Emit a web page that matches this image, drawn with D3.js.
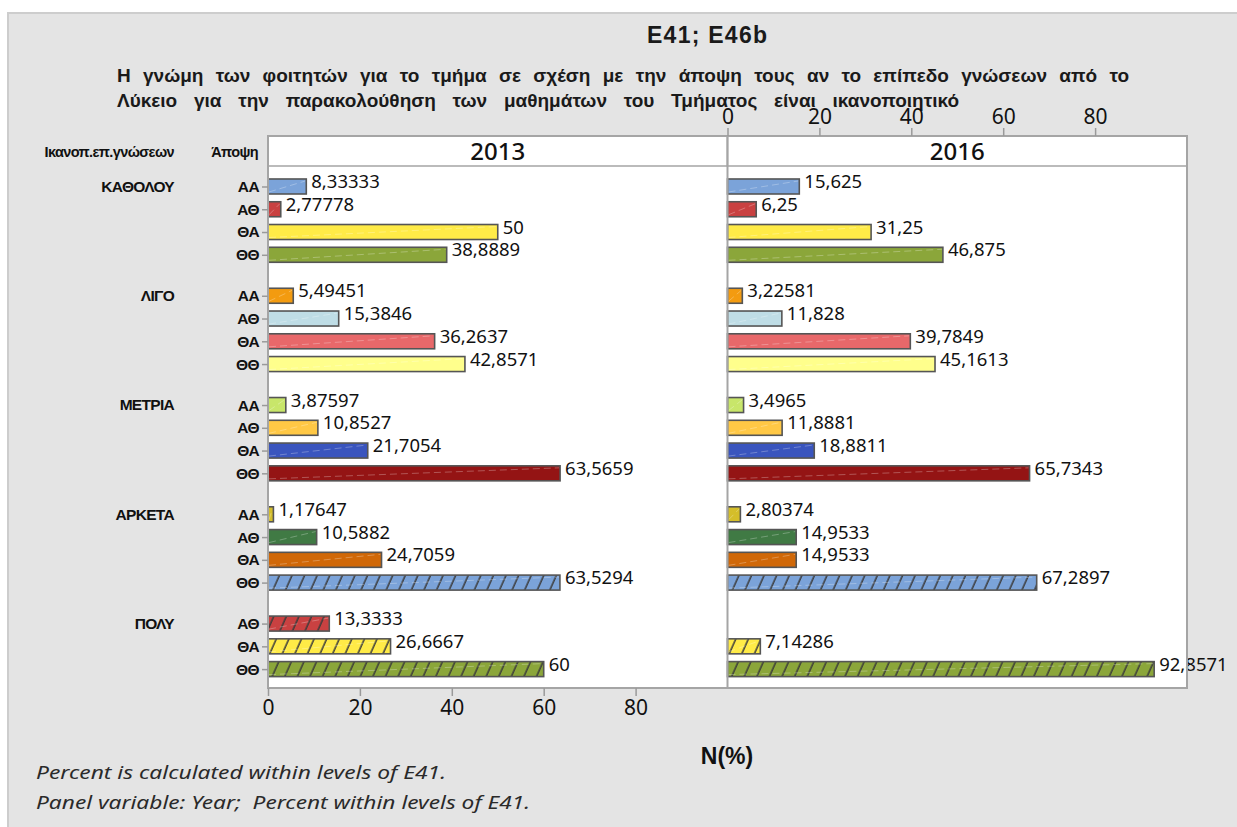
<!DOCTYPE html>
<html>
<head>
<meta charset="utf-8">
<script src="https://cdn.jsdelivr.net/npm/d3@7"></script>
<style>
  body { margin: 0; background: #fff; }
  svg { display: block; }
</style>
</head>
<body>
<div id="chart"></div>
<script>
// ---- data ----
const years = ['2013', '2016'];
const groups = ['ΚΑΘΟΛΟΥ', 'ΛΙΓΟ', 'ΜΕΤΡΙΑ', 'ΑΡΚΕΤΑ', 'ΠΟΛΥ'];
const opinions = [
  ['ΑΑ', 'ΑΘ', 'ΘΑ', 'ΘΘ'],
  ['ΑΑ', 'ΑΘ', 'ΘΑ', 'ΘΘ'],
  ['ΑΑ', 'ΑΘ', 'ΘΑ', 'ΘΘ'],
  ['ΑΑ', 'ΑΘ', 'ΘΑ', 'ΘΘ'],
  ['ΑΘ', 'ΘΑ', 'ΘΘ']
];
const values2013 = [8.33333, 2.77778, 50, 38.8889, 5.49451, 15.3846, 36.2637, 42.8571,
  3.87597, 10.8527, 21.7054, 63.5659, 1.17647, 10.5882, 24.7059, 63.5294, 13.3333, 26.6667, 60];
const values2016 = [15.625, 6.25, 31.25, 46.875, 3.22581, 11.828, 39.7849, 45.1613,
  3.4965, 11.8881, 18.8811, 65.7343, 2.80374, 14.9533, 14.9533, 67.2897, null, 7.14286, 92.8571];
const xTicks = [0, 20, 40, 60, 80];

// minitab-ish fill cycle, repeats with a hatch after 15
const palette = ['#7ba3d9', '#c94141', '#ffeb47', '#8ba63a', '#f39b10', '#bfdde6', '#e8686a',
  '#ffff8c', '#c8e66a', '#ffc845', '#3a55be', '#941414', '#d4be2a', '#407a44', '#d06808'];

const W = 1237, H = 827;
const GAP = 0.8; // extra row slots between groups
const SANS = 'Liberation Sans, Arial, sans-serif';
const UI = 'Noto Sans, Open Sans, sans-serif';

// flatten rows
const rows = [];
let k = 0;
groups.forEach((g, gi) => {
  opinions[gi].forEach((o, oi) => {
    rows.push({ group: g, gi, opinion: o, first: oi === 0, pos: k + gi * GAP, idx: k });
    k++;
  });
});

const svg = d3.select('#chart').append('svg').attr('width', W).attr('height', H);

const defs = svg.append('defs');
const hatch = defs.append('pattern')
  .attr('id', 'hatch').attr('patternUnits', 'userSpaceOnUse')
  .attr('width', 11.5).attr('height', 11.5)
  .attr('patternTransform', 'rotate(24)');
hatch.append('line').attr('x1', 3).attr('x2', 3).attr('y1', 0).attr('y2', 11.5)
  .attr('stroke', '#3a3a3a').attr('stroke-width', 1.5);

// stretch a text's word gaps so it spans `target` px
function fitWords(sel, target) {
  const n = sel.text().split(' ').length - 1;
  const len = sel.node().getComputedTextLength();
  if (n > 0 && target > len) sel.attr('word-spacing', (target - len) / n);
  else sel.attr('textLength', target).attr('lengthAdjust', 'spacingAndGlyphs');
}

// background
svg.append('rect').attr('x', 8).attr('y', 13).attr('width', W).attr('height', H)
  .attr('fill', '#e4e4e4').attr('stroke', '#cdcdcd').attr('stroke-width', 2);

// layout
const plotTop = 166, plotBottom = 688, stripTop = 136;
const panel = d3.scaleBand().domain(years).range([268, 1187]);
const x = d3.scaleLinear().domain([0, 100]).range([0, panel.bandwidth()]);
const y = d3.scaleLinear().domain([-0.9, 22.03]).range([plotTop, plotBottom]);
const barH = 15;

const numFmt = v => String(v).replace('.', ',');

// titles
svg.append('text').attr('x', 707).attr('y', 43).attr('text-anchor', 'middle')
  .attr('font-family', SANS).attr('font-weight', 'bold')
  .attr('font-size', 23).attr('fill', '#1a1a1a')
  .attr('textLength', 120).attr('lengthAdjust', 'spacing').text('E41; E46b');

const sub = [
  ['Η γνώμη των φοιτητών για το τμήμα σε σχέση με την άποψη τους αν το επίπεδο γνώσεων από το', 82, 1012],
  ['Λύκειο για την παρακολούθηση των μαθημάτων του Τμήματος είναι ικανοποιητικό', 107, 842]
];
const subEls = sub.map(([t, yy]) => svg.append('text').attr('x', 117).attr('y', yy)
  .attr('font-family', SANS).attr('font-weight', 'bold')
  .attr('font-size', 16).attr('fill', '#1a1a1a').text(t));
// size the subtitle so words keep modest gaps, as in the original
const natural = subEls[0].node().getComputedTextLength();
const subSize = Math.min(19, 16 * (0.9 * sub[0][2]) / natural);
subEls.forEach((s, i) => { s.attr('font-size', subSize); fitWords(s, sub[i][2]); });

// panels
years.forEach((yr, pi) => {
  const px = panel(yr), pw = panel.bandwidth();
  const g = svg.append('g').attr('transform', `translate(${px},0)`);
  g.append('rect').attr('x', 0).attr('y', plotTop).attr('width', pw).attr('height', plotBottom - plotTop)
    .attr('fill', '#fff');
  g.append('rect').attr('x', 0).attr('y', stripTop).attr('width', pw).attr('height', plotTop - stripTop)
    .attr('fill', '#fff').attr('stroke', '#a5a5a5').attr('stroke-width', 1.5);
  g.append('text').attr('x', pw / 2).attr('y', 160).attr('text-anchor', 'middle')
    .attr('font-family', UI).attr('font-size', 24).attr('font-weight', 500)
    .attr('fill', '#111').text(yr);

  const vals = pi === 0 ? values2013 : values2016;
  const data = rows.map(r => ({ ...r, v: vals[r.idx] })).filter(d => d.v != null);

  const bars = g.append('g').selectAll('g').data(data).join('g');
  bars.append('rect')
    .attr('x', x(0)).attr('y', d => y(d.pos) - barH / 2)
    .attr('width', d => x(d.v)).attr('height', barH)
    .attr('fill', d => palette[d.idx % palette.length]);
  bars.filter(d => d.idx >= palette.length).append('rect')
    .attr('x', x(0)).attr('y', d => y(d.pos) - barH / 2)
    .attr('width', d => x(d.v)).attr('height', barH)
    .attr('fill', 'url(#hatch)');
  // faint gloss streak
  bars.append('line')
    .attr('x1', x(0) + 1).attr('y1', d => y(d.pos) + barH / 2 - 2)
    .attr('x2', d => x(d.v) - 1).attr('y2', d => y(d.pos) - barH / 2 + 2)
    .attr('stroke', '#fff').attr('stroke-opacity', 0.35).attr('stroke-width', 0.8)
    .attr('stroke-dasharray', '7 4');
  bars.append('rect')
    .attr('x', x(0)).attr('y', d => y(d.pos) - barH / 2)
    .attr('width', d => x(d.v)).attr('height', barH)
    .attr('fill', 'none').attr('stroke', '#555').attr('stroke-width', 1.6);
  bars.append('text')
    .attr('x', d => x(d.v) + 5).attr('y', d => y(d.pos) + 1.5)
    .attr('font-family', UI).attr('font-size', 18.5)
    .attr('fill', '#111').text(d => numFmt(d.v));
});

// frame + divider
svg.append('rect').attr('x', 268).attr('y', stripTop).attr('width', 1187 - 268).attr('height', plotBottom - stripTop)
  .attr('fill', 'none').attr('stroke', '#a5a5a5').attr('stroke-width', 2);
svg.append('line').attr('x1', panel('2016')).attr('x2', panel('2016')).attr('y1', stripTop).attr('y2', plotBottom)
  .attr('stroke', '#a5a5a5').attr('stroke-width', 2);

// axes
function styleAxis(sel, size) {
  sel.select('.domain').remove();
  sel.selectAll('.tick line').attr('stroke', '#9a9a9a').attr('stroke-width', 1.5);
  sel.selectAll('.tick text').attr('font-family', UI)
    .attr('font-size', size).attr('fill', '#111');
}
const bottomAx = svg.append('g').attr('transform', `translate(${panel('2013')},${plotBottom})`)
  .call(d3.axisBottom(x).tickValues(xTicks).tickSize(8).tickPadding(4));
styleAxis(bottomAx, 21);
const topAx = svg.append('g').attr('transform', `translate(${panel('2016')},${stripTop})`)
  .call(d3.axisTop(x).tickValues(xTicks).tickSize(8).tickPadding(4));
styleAxis(topAx, 21);

const leftAx = svg.append('g').attr('transform', 'translate(268,0)')
  .call(d3.axisLeft(y).tickValues(rows.map(r => r.pos))
    .tickFormat((d, i) => rows[i].opinion).tickSize(6).tickPadding(3));
leftAx.select('.domain').remove();
leftAx.selectAll('.tick line').attr('stroke', '#9a9a9a').attr('stroke-width', 1.5);
leftAx.selectAll('.tick text').attr('font-family', SANS)
  .attr('font-weight', 'bold').attr('font-size', 15.5).attr('letter-spacing', -0.6).attr('fill', '#111');

// group labels
svg.append('g').selectAll('text').data(rows.filter(r => r.first)).join('text')
  .attr('x', 174).attr('y', d => y(d.pos)).attr('dy', '0.35em').attr('text-anchor', 'end')
  .attr('font-family', SANS).attr('font-weight', 'bold')
  .attr('font-size', 15.5).attr('letter-spacing', -0.7).attr('fill', '#111').text(d => d.group);

// column headers
svg.append('text').attr('x', 174).attr('y', 157).attr('text-anchor', 'end')
  .attr('font-family', SANS).attr('font-weight', 'bold')
  .attr('font-size', 14.5).attr('letter-spacing', -0.6).attr('fill', '#111').text('Ικανοπ.επ.γνώσεων');
svg.append('text').attr('x', 258).attr('y', 157).attr('text-anchor', 'end')
  .attr('font-family', SANS).attr('font-weight', 'bold')
  .attr('font-size', 14.5).attr('letter-spacing', -0.6).attr('fill', '#111').text('Άποψη');

// axis title
svg.append('text').attr('x', 727).attr('y', 764).attr('text-anchor', 'middle')
  .attr('font-family', SANS).attr('font-weight', 'bold')
  .attr('font-size', 23).attr('fill', '#111').text('N(%)');

// footnotes
const notes = [
  ['Percent is calculated within levels of E41.', 779, 410],
  ['Panel variable: Year;  Percent within levels of E41.', 809, 494]
];
notes.forEach(([t, yy, len]) => {
  svg.append('text').attr('x', 36).attr('y', yy).attr('xml:space', 'preserve')
    .attr('font-family', UI).attr('font-style', 'italic')
    .attr('font-size', 18).attr('fill', '#2a2a2a')
    .attr('textLength', len).attr('lengthAdjust', 'spacingAndGlyphs').text(t);
});
</script>
</body>
</html>
